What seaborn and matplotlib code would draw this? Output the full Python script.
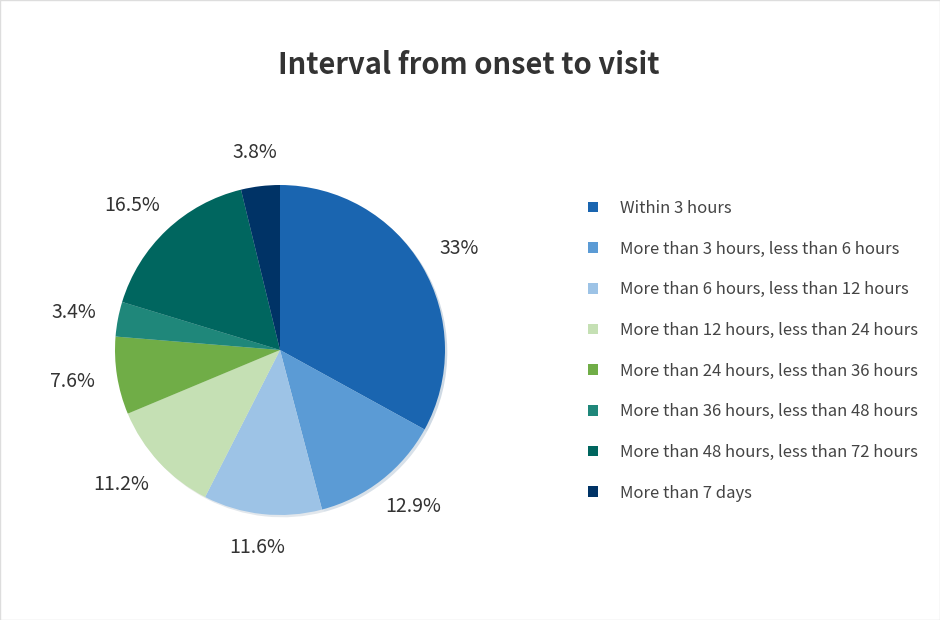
import matplotlib
matplotlib.use("Agg")
import numpy as np
import matplotlib.pyplot as plt
import seaborn as sns
from matplotlib.patches import Patch, Rectangle

categories = [
    "Within 3 hours",
    "More than 3 hours, less than 6 hours",
    "More than 6 hours, less than 12 hours",
    "More than 12 hours, less than 24 hours",
    "More than 24 hours, less than 36 hours",
    "More than 36 hours, less than 48 hours",
    "More than 48 hours, less than 72 hours",
    "More than 7 days",
]
values = [33, 12.9, 11.6, 11.2, 7.6, 3.4, 16.5, 3.8]
value_labels = ["33%", "12.9%", "11.6%", "11.2%", "7.6%", "3.4%", "16.5%", "3.8%"]
colors = ["#1a65b0", "#5b9bd5", "#9dc3e6", "#c5e0b4", "#70ad47", "#1f877a", "#00665f", "#003366"]

sns.set_theme(style="white")
plt.rcParams["font.family"] = ["Noto Sans CJK KR", "DejaVu Sans"]

W, H = 940, 620
fig = plt.figure(figsize=(W / 100, H / 100), dpi=100)
fig.patch.set_facecolor("white")
fig.patches.append(Rectangle((0.0005, 0.0008), 0.999, 0.9984, transform=fig.transFigure,
                             fill=False, edgecolor="#dddddd", linewidth=1))

cx, cy, R = 280, H - 350, 165
half = 215
ax = fig.add_axes([(cx - half) / W, (cy - half) / H, 2 * half / W, 2 * half / H])

palette = sns.color_palette(colors)
wedges, texts = ax.pie(values, colors=palette, startangle=90, counterclock=False,
                       radius=1, labels=value_labels, labeldistance=1.2,
                       textprops=dict(fontsize=14, color="#333333"),
                       wedgeprops=dict(linewidth=0),
                       shadow=dict(ox=0.01, oy=-0.01, shade=0.3, alpha=0.2))
ax.set_xlim(-half / R, half / R)
ax.set_ylim(-half / R, half / R)
ax.set_aspect("equal")
ax.axis("off")

# place labels "outside end": box edge sits a fixed gap beyond the rim
fig.canvas.draw()
renderer = fig.canvas.get_renderer()
gap = 23 / R
for wd, t in zip(wedges, texts):
    t.set_horizontalalignment("center")
    t.set_verticalalignment("center")
    bb = t.get_window_extent(renderer)
    tw, th = bb.width / R, bb.height / R
    ang = np.deg2rad((wd.theta1 + wd.theta2) / 2)
    c, s = np.cos(ang), np.sin(ang)
    t.set_position(((1 + gap) * c + tw / 2 * c, (1 + gap) * s + th / 2 * s))

fig.text(469 / W, 1 - 65 / H, "Interval from onset to visit", ha="center", va="center",
         fontsize=21, color="#333333", fontweight="bold")

handles = [Patch(facecolor=c, edgecolor="none") for c in palette]
leg = fig.legend(handles, categories, loc="upper left", bbox_to_anchor=(588 / W, 1 - 200 / H),
                 frameon=False, fontsize=12, labelcolor="#444444",
                 handlelength=0.6, handleheight=0.6, handletextpad=1.3, labelspacing=1.42,
                 borderaxespad=0, borderpad=0)

fig.savefig("out.png", dpi=100, facecolor="white")
